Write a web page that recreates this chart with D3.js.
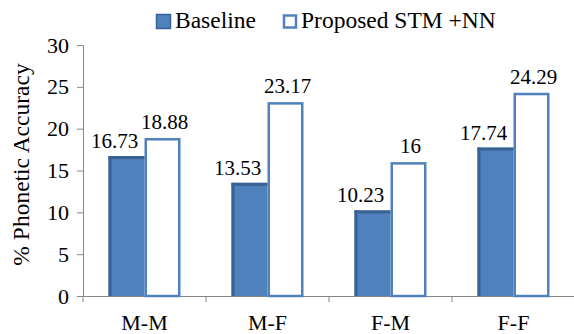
<!DOCTYPE html>
<html><head><meta charset="utf-8">
<script src="https://cdn.jsdelivr.net/npm/d3@7"></script>
<style>body{margin:0;background:#fff}svg{display:block}</style>
</head><body><svg id="c" width="574" height="334"></svg>
<script>
const categories = ["M-M", "M-F", "F-M", "F-F"];
const seriesNames = ["Baseline", "Proposed STM +NN"];
const baseline = [16.73, 13.53, 10.23, 17.74];
const proposed = [18.88, 23.17, 16, 24.29];
const yTicks = [0, 5, 10, 15, 20, 25, 30];

(function () {
const FONT = "'Liberation Serif', 'Times New Roman', serif";
const svg = d3.select("#c");
const mLeft = 83, mRight = 575, mTop = 45, mBottom = 296;
const x = d3.scaleBand().domain(categories).range([mLeft, mRight]).padding(0);
const xs = d3.scaleBand().domain(seriesNames).range([(x.bandwidth() - 72) / 2, (x.bandwidth() + 72) / 2]);
const y = d3.scaleLinear().domain([0, 30]).range([mBottom, mTop]);
const axisColor = "#868686";
const txt = (sel) => sel.style("font-family", FONT).style("fill", "#000");

// Y axis
const ya = svg.append("g").attr("transform", `translate(${mLeft},0)`)
  .call(d3.axisLeft(y).tickValues(yTicks).tickSize(6).tickPadding(8));
ya.attr("font-family", null);
ya.select(".domain").attr("stroke", axisColor);
ya.selectAll(".tick line").attr("stroke", axisColor);
ya.selectAll(".tick text").style("font-size", "22px").call(txt);

// X axis
const xa = svg.append("g").attr("transform", `translate(0,${mBottom})`)
  .call(d3.axisBottom(x).tickSize(0).tickPadding(0));
xa.attr("font-family", null);
xa.select(".domain").attr("stroke", axisColor);
xa.selectAll(".tick text").style("font-size", "22px").call(txt).attr("dy", 0).attr("y", 34);
const bounds = categories.map(c => x(c)).concat([mRight]);
svg.append("g").selectAll("line").data(bounds).join("line")
  .attr("x1", d => d).attr("x2", d => d).attr("y1", mBottom).attr("y2", mBottom + 6)
  .attr("stroke", axisColor);

// Y title
svg.append("text").attr("transform", `translate(29,${(mTop + mBottom) / 2 - 6}) rotate(-90)`)
  .attr("text-anchor", "middle").style("font-size", "23.5px").call(txt).text("% Phonetic Accuracy");

// Bars
const g = svg.append("g");
categories.forEach((c, i) => {
  const bx = x(c) + xs("Baseline"), bw = xs.bandwidth();
  const by = y(baseline[i]);
  g.append("rect").attr("x", bx).attr("y", by).attr("width", bw).attr("height", mBottom - by).attr("fill", "#4F81BD");
  g.append("rect").attr("x", bx).attr("y", by).attr("width", 3).attr("height", mBottom - by).attr("fill", "#3A6194");
  g.append("rect").attr("x", bx).attr("y", by).attr("width", bw).attr("height", 3).attr("fill", "#3A6194");
  const px = x(c) + xs(seriesNames[1]);
  const py = y(proposed[i]);
  g.append("rect").attr("x", px + 1.25).attr("y", py + 1.25).attr("width", bw - 2.5).attr("height", mBottom - py - 1.25)
    .attr("fill", "#fff").attr("stroke", "#4F81BD").attr("stroke-width", 2.5);
  svg.append("text").attr("x", bx + bw / 2 - 12).attr("y", by - 8).attr("text-anchor", "middle").style("font-size", "21px").call(txt).text(baseline[i]);
  svg.append("text").attr("x", px + bw / 2 + 2).attr("y", py - 9).attr("text-anchor", "middle").style("font-size", "21px").call(txt).text(proposed[i]);
});

// Legend
const leg = svg.append("g");
leg.append("rect").attr("x", 156.5).attr("y", 14.5).attr("width", 14).attr("height", 14).attr("fill", "#4F81BD").attr("stroke", "#3A6194").attr("stroke-width", 1.5);
leg.append("text").attr("x", 175).attr("y", 28).style("font-size", "23.5px").call(txt).text(seriesNames[0]);
leg.append("rect").attr("x", 284).attr("y", 15.5).attr("width", 12).attr("height", 12).attr("fill", "#fff").attr("stroke", "#4F81BD").attr("stroke-width", 2.5);
leg.append("text").attr("x", 301).attr("y", 28).style("font-size", "23.5px").call(txt).text(seriesNames[1]);
})();
</script></body></html>
